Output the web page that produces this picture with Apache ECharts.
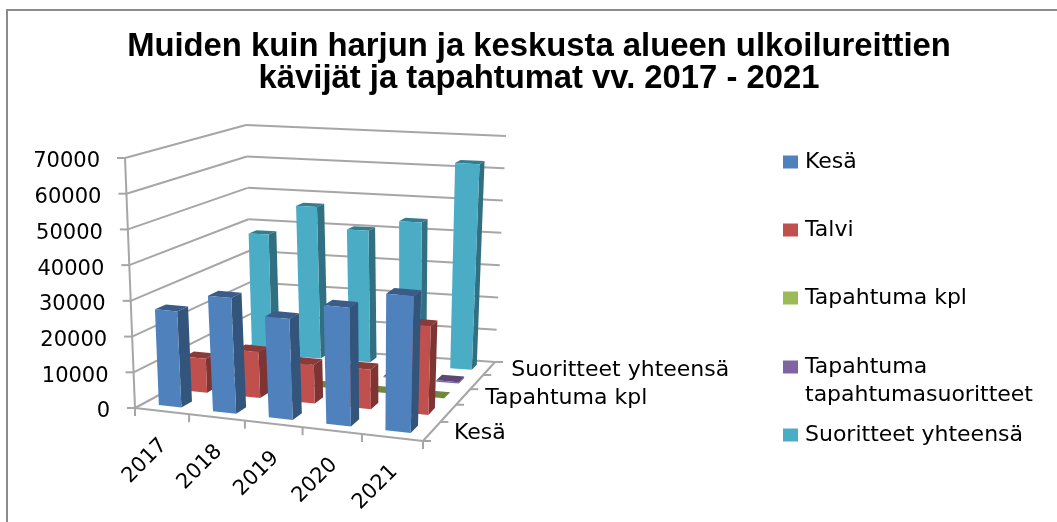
<!DOCTYPE html>
<html>
<head>
<meta charset="utf-8">
<style>html,body{margin:0;padding:0;background:#fff}#main{width:1057px;height:522px}</style>
<script src="https://cdn.jsdelivr.net/npm/echarts@6/dist/echarts.min.js"></script>
</head>
<body>
<div id="main"></div>
<script>
var years = ['2017', '2018', '2019', '2020', '2021'];
var valueTicks = [0, 10000, 20000, 30000, 40000, 50000, 60000, 70000];
var maxValue = 70000;

var kesa = [27000, 32300, 28000, 32700, 37500];
var talvi = [9800, 13200, 11000, 11200, 25000];
var tapahtumaKpl = [40, 50, 45, 30, 35];
var tapahtumaSuoritteet = [400, 500, 300, 300, 400];
var suoritteetYhteensa = [37500, 47000, 40500, 44000, 62700];

var rowNames = ['Kesä', 'Talvi', 'Tapahtuma kpl', 'Tapahtuma tapahtumasuoritteet', 'Suoritteet yhteensä'];
var rowValues = [kesa, talvi, tapahtumaKpl, tapahtumaSuoritteet, suoritteetYhteensa];
var rowColors = ['#4f81bd', '#c0504d', '#9bbb59', '#8064a2', '#4bacc6'];
var shownRowLabels = ['Kesä', '', 'Tapahtuma kpl', '', 'Suoritteet yhteensä'];

// box corners as drawn in the picture: front-left, front-right, back-right, back-left
var floorQuad = [[135, 408], [423, 441], [495, 362], [252, 345]];
var topQuad = [[125, 158], [431, 183], [506, 136], [246, 125]];

var lineColor = '#a6a6a6';
var labelFont = '"DejaVu Sans", "Noto Sans", sans-serif';

function makeHomography(q) {
    var dx1 = q[1][0] - q[2][0], dx2 = q[3][0] - q[2][0], sx = q[0][0] - q[1][0] + q[2][0] - q[3][0];
    var dy1 = q[1][1] - q[2][1], dy2 = q[3][1] - q[2][1], sy = q[0][1] - q[1][1] + q[2][1] - q[3][1];
    var den = dx1 * dy2 - dx2 * dy1;
    var g = (sx * dy2 - dx2 * sy) / den;
    var h = (dx1 * sy - sx * dy1) / den;
    var a = q[1][0] - q[0][0] + g * q[1][0];
    var b = q[3][0] - q[0][0] + h * q[3][0];
    var d = q[1][1] - q[0][1] + g * q[1][1];
    var e = q[3][1] - q[0][1] + h * q[3][1];
    return function (u, v) {
        var k = g * u + h * v + 1;
        return [(a * u + b * v + q[0][0]) / k, (d * u + e * v + q[0][1]) / k];
    };
}

var floorAt = makeHomography(floorQuad);
var topAt = makeHomography(topQuad);

// u along years, v along rows, w along values, all 0..1
function project(u, v, w) {
    // the picture's year spacing grows less than the plain homography gives
    var eased = u + 0.09 * u * (1 - u);
    var f = floorAt(eased, v), t = topAt(eased, v);
    return [f[0] + (t[0] - f[0]) * w, f[1] + (t[1] - f[1]) * w];
}

function shade(hex, k) {
    var n = parseInt(hex.slice(1), 16);
    var r = Math.round((n >> 16 & 255) * k), g = Math.round((n >> 8 & 255) * k), b = Math.round((n & 255) * k);
    return 'rgb(' + r + ',' + g + ',' + b + ')';
}

function poly(points, color) {
    return { type: 'polygon', shape: { points: points }, style: { fill: color } };
}

function segment(a, b) {
    return {
        type: 'line',
        shape: { x1: a[0], y1: a[1], x2: b[0], y2: b[1] },
        style: { stroke: lineColor, lineWidth: 2 }
    };
}

function label(text, p, align, size, rotation) {
    return {
        type: 'text',
        x: p[0], y: p[1],
        rotation: rotation || 0,
        style: { text: text, align: align, verticalAlign: 'middle', fill: '#000', font: size + 'px ' + labelFont }
    };
}

function renderBar(row) {
    return function (params, api) {
        var sys = params.coordSys;
        var pos = api.coord([api.value(0), api.value(1)]);
        var zero = api.coord([api.value(0), 0]);
        var full = api.coord([api.value(0), maxValue]);
        var halfU = api.size([1, 0])[0] / sys.width * 0.21;
        var u = (pos[0] - sys.x) / sys.width;
        var w = (zero[1] - pos[1]) / (zero[1] - full[1]);
        var v0 = (row + 0.5) / rowNames.length - 0.04;
        var v1 = (row + 0.5) / rowNames.length + 0.04;
        var u0 = u - halfU, u1 = u + halfU;
        var color = api.visual('color');
        return {
            type: 'group',
            children: [
                poly([project(u0, v0, w), project(u1, v0, w), project(u1, v1, w), project(u0, v1, w)], shade(color, 0.72)),
                poly([project(u1, v0, 0), project(u1, v1, 0), project(u1, v1, w), project(u1, v0, w)], shade(color, 0.65)),
                poly([project(u0, v0, 0), project(u1, v0, 0), project(u1, v0, w), project(u0, v0, w)], color)
            ]
        };
    };
}

// walls, floor edges, ticks and their labels
function renderBox(params, api) {
    var sys = params.coordSys;
    var kids = [];
    var rows = rowNames.length;
    valueTicks.forEach(function (val) {
        var y0 = api.coord([0, 0])[1], y1 = api.coord([0, maxValue])[1];
        var w = (y0 - api.coord([0, val])[1]) / (y0 - y1);
        var front = project(0, 0, w), back = project(0, 1, w), right = project(1, 1, w);
        kids.push(segment(front, back), segment(back, right));
        kids.push(segment(front, [front[0] - 8, front[1]]));
        kids.push(label(String(val), [front[0] - 25, front[1] + 4], 'right', 21));
    });
    kids.push(segment(project(0, 0, 0), project(0, 0, 1)));
    kids.push(segment(project(0, 0, 0), project(1, 0, 0)));
    kids.push(segment(project(1, 0, 0), project(1, 1, 0)));
    var band = api.size([1, 0])[0] / sys.width;
    for (var i = 0; i <= years.length; i++) {
        var p = project(i * band, 0, 0);
        kids.push(segment(p, [p[0], p[1] + 8]));
    }
    years.forEach(function (name, idx) {
        var u = (api.coord([idx, 0])[0] - sys.x) / sys.width;
        var p = project(u, 0, 0);
        kids.push(label(name, [p[0] + 2, p[1] + 31], 'right', 21, Math.PI / 4));
    });
    for (var r = 0; r <= rows; r++) {
        var q = project(1, r / rows, 0);
        kids.push(segment(q, [q[0] + 8, q[1]]));
    }
    shownRowLabels.forEach(function (name, r) {
        if (!name) return;
        var q = project(1, (r + 0.5) / rows, 0);
        kids.push(label(name, [q[0] + 22, q[1] + 2], 'left', 22));
    });
    return { type: 'group', children: kids };
}

var series = [{
    name: 'box',
    type: 'custom',
    coordinateSystem: 'cartesian2d',
    silent: true,
    renderItem: renderBox,
    data: [[0, 0]]
}];

// back row first so the nearer rows paint over it
for (var r = rowNames.length - 1; r >= 0; r--) {
    series.push({
        name: rowNames[r],
        type: 'custom',
        coordinateSystem: 'cartesian2d',
        renderItem: renderBar(r),
        itemStyle: { color: rowColors[r] },
        encode: { x: 0, y: 1 },
        data: rowValues[r].map(function (v, i) { return [i, v]; })
    });
}

function legendBlock(names, top, gap, lineHeight, extra) {
    return Object.assign({
        data: names,
        orient: 'vertical',
        left: 778,
        top: top,
        itemGap: gap,
        itemWidth: 15,
        itemHeight: 13,
        icon: 'rect',
        selectedMode: false,
        textStyle: { fontFamily: labelFont, fontSize: 22, lineHeight: lineHeight, color: '#000', padding: [0, 0, 0, 2] }
    }, extra || {});
}

var option = {
    animation: false,
    backgroundColor: '#fff',
    title: {
        text: 'Muiden kuin harjun ja keskusta alueen ulkoilureittien\nkävijät ja tapahtumat vv. 2017 - 2021',
        left: 534,
        top: 26,
        textAlign: 'center',
        textStyle: { fontFamily: '"Liberation Sans", Arial, sans-serif', fontWeight: 'bold', fontSize: 32.8, lineHeight: 32, color: '#000' }
    },
    legend: [
        legendBlock(['Kesä', 'Talvi', 'Tapahtuma kpl'], 145, 44, 24),
        // blank first line keeps the symbol level with the first text line
        legendBlock(['Tapahtuma tapahtumasuoritteet'], 320, 0, 28, {
            formatter: function () { return '\nTapahtuma\ntapahtumasuoritteet'; }
        }),
        legendBlock(['Suoritteet yhteensä'], 418, 0, 24)
    ],
    grid: { left: 135, top: 158, width: 288, height: 250 },
    xAxis: { type: 'category', data: years, show: false },
    yAxis: { type: 'value', min: 0, max: maxValue, interval: 10000, show: false },
    graphic: [{
        type: 'polyline',
        silent: true,
        z: -1,
        shape: { points: [[7, 522], [7, 10], [1057, 10]] },
        style: { stroke: '#8c8c8c', fill: null, lineWidth: 2 }
    }],
    series: series
};

var chart = echarts.init(document.getElementById('main'), null, { renderer: 'canvas' });
chart.setOption(option);
</script>
</body>
</html>
